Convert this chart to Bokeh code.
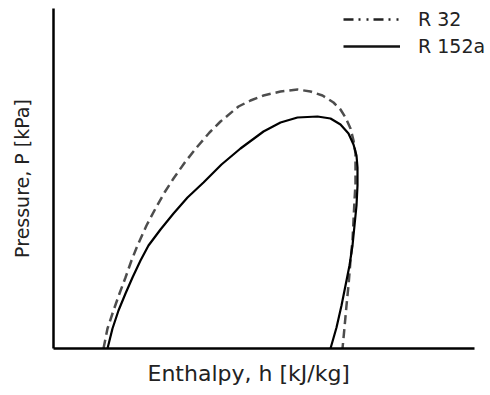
from bokeh.plotting import figure
from bokeh.models import Range1d, FixedTicker, Legend, LegendItem, Title
from bokeh.embed import file_html
from bokeh.resources import INLINE

# Saturation dome of R 32 (enthalpy, pressure) - arbitrary units
h_r32 = [50, 54, 60, 66, 72, 78, 84, 93, 102, 111, 120, 132, 144, 156, 167, 185, 197, 210, 227, 244,
         257, 269, 280, 287, 292, 297, 300, 302, 302, 302, 301, 300, 299, 297, 295, 293, 291, 289]
p_r32 = [0, 20, 38, 55, 71, 88, 103, 123, 140, 156, 170, 187, 202, 216, 227, 242, 248, 253, 257, 259,
         257, 253, 246, 239, 231, 220, 208, 195, 181, 165, 148, 128, 108, 88, 63, 43, 21, 0]

# Saturation dome of R 152a
h_r152a = [54, 59, 65, 72, 79, 87, 95, 107, 120, 134, 150, 168, 187, 210, 227, 244, 264, 277, 287, 295,
           300, 303, 304, 304, 303, 301, 299, 296, 292, 288, 283, 277]
p_r152a = [0, 20, 38, 55, 71, 88, 103, 119, 135, 151, 166, 184, 200, 217, 226, 231, 232, 230, 224, 215,
           204, 193, 181, 163, 143, 123, 103, 83, 63, 43, 21, 0]

series_names = ["R 32", "R 152a"]
x_label = "Enthalpy, h [kJ/kg]"
y_label = "Pressure, P [kPa]"

FONT = "DejaVu Sans"
TXT = "#222222"
NAN = float("nan")

p = figure(width=490, height=395, output_backend="svg", toolbar_location=None,
           x_range=Range1d(0, 437), y_range=Range1d(0, 340),
           min_border_left=53, min_border_right=0, min_border_top=8, min_border_bottom=47)
p.outline_line_color = None
p.xgrid.visible = False
p.ygrid.visible = False
p.background_fill_color = "white"

for ax in (p.xaxis[0], p.yaxis[0]):
    ax.ticker = FixedTicker(ticks=[])
    ax.minor_tick_line_color = None
    ax.major_tick_line_color = None
    ax.major_tick_out = 0
    ax.minor_tick_out = 0
    ax.major_label_standoff = 0
    ax.axis_line_color = "black"
    ax.axis_line_width = 2.5
p.xaxis[0].bounds = (0, 421)

yax = p.yaxis[0]
yax.axis_label = y_label
yax.axis_label_text_font = FONT
yax.axis_label_text_font_style = "normal"
yax.axis_label_text_color = TXT
yax.axis_label_text_font_size = "19px"
yax.axis_label_standoff = 21

# x label placed under the axis line, left part of the bottom panel
xt = Title(text=x_label, align="left", offset=94, standoff=20,
           text_font=FONT, text_font_size="22px", text_font_style="normal", text_color=TXT)
p.add_layout(xt, "below")

p.line(h_r32, p_r32, line_color="#4d4d4d", line_width=2.5, line_dash="9 5")
p.line(h_r152a, p_r152a, line_color="black", line_width=2.2)

# legend proxies (no visible data)
leg32 = p.line([NAN], [NAN], line_color="#222222", line_width=2.5, line_dash="10 5 2 6 2 5")
leg152 = p.line([NAN], [NAN], line_color="#111111", line_width=2.5)

legend = Legend(items=[LegendItem(label=series_names[0], renderers=[leg32]),
                       LegendItem(label=series_names[1], renderers=[leg152])],
                location=(290, 291), orientation="vertical",
                glyph_width=57, glyph_height=20, label_height=20, label_standoff=18,
                spacing=5, padding=0, margin=0,
                border_line_color=None, background_fill_alpha=0,
                label_text_font=FONT, label_text_font_size="19px", label_text_color=TXT)
p.add_layout(legend)

open("out.html", "w").write(file_html(p, INLINE))
